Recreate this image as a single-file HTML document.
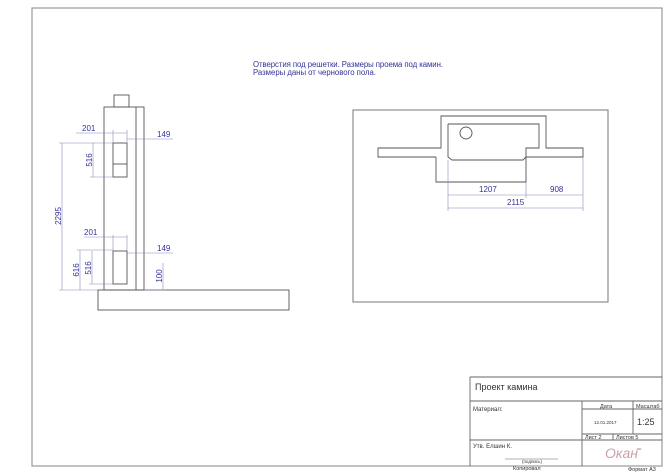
<!DOCTYPE html>
<html><head><meta charset="utf-8"><style>
html,body{margin:0;padding:0;background:#fff}
svg{display:block}
text{font-family:"Liberation Sans",sans-serif}
</style></head><body>
<svg width="670" height="474" viewBox="0 0 670 474" xmlns="http://www.w3.org/2000/svg">
<rect width="670" height="474" fill="#fff"/>
<rect x="32" y="8" width="630" height="458" fill="none" stroke="#999" stroke-width="1.2"/>
<text x="253" y="67" font-size="7.8" fill="#33339a" textLength="190">Отверстия под решетки. Размеры проема под камин.</text>
<text x="253" y="75" font-size="7.8" fill="#33339a" textLength="123">Размеры даны от чернового пола.</text>

<g fill="none" stroke="#555" stroke-width="0.9">
<rect x="114" y="95" width="15" height="12"/>
<rect x="104" y="107" width="40" height="183"/>
<line x1="136" y1="107" x2="136" y2="290"/>
<rect x="113" y="143" width="14" height="34"/>
<line x1="113" y1="164" x2="127" y2="164"/>
<rect x="113" y="251" width="14" height="33"/>
<rect x="98" y="290" width="191" height="20"/>
</g>
<g stroke="#8888bb" stroke-width="0.6" fill="none">
<line x1="76" y1="133" x2="127" y2="133"/><line x1="113" y1="130" x2="113" y2="143"/><line x1="127" y1="130" x2="127" y2="143"/>
<line x1="127" y1="139" x2="173" y2="139"/>
<line x1="62" y1="143" x2="62" y2="290"/><line x1="59" y1="143" x2="113" y2="143"/><line x1="59" y1="290" x2="98" y2="290"/>
<line x1="93" y1="143" x2="93" y2="177"/><line x1="90" y1="177" x2="113" y2="177"/>
<line x1="84" y1="237" x2="127" y2="237"/><line x1="113" y1="235" x2="113" y2="251"/><line x1="127" y1="235" x2="127" y2="251"/>
<line x1="127" y1="253" x2="173" y2="253"/>
<line x1="80" y1="250" x2="80" y2="290"/><line x1="77" y1="250" x2="113" y2="250"/>
<line x1="92" y1="251" x2="92" y2="284"/><line x1="89" y1="284" x2="113" y2="284"/>
<line x1="163" y1="263" x2="163" y2="290"/><line x1="144" y1="290" x2="166" y2="290"/>
</g>
<g font-size="8" fill="#33339a">
<text x="82" y="131">201</text>
<text x="157" y="137">149</text>
<text x="84" y="235">201</text>
<text x="157" y="251">149</text>
<text transform="translate(61,216) rotate(-90)" text-anchor="middle">2295</text>
<text transform="translate(92,160) rotate(-90)" text-anchor="middle">516</text>
<text transform="translate(79,270) rotate(-90)" text-anchor="middle">616</text>
<text transform="translate(91,268) rotate(-90)" text-anchor="middle">516</text>
<text transform="translate(162,276) rotate(-90)" text-anchor="middle">100</text>
</g>

<rect x="353" y="110" width="255" height="192" fill="none" stroke="#777" stroke-width="1"/>
<g fill="none" stroke="#555" stroke-width="0.9">
<polyline points="436,157 378,157 378,148 441,148 441,116 546,116 546,148 583,148 583,157 526,157"/>
<polyline points="448,124 539,124 539,148 526,148 526,157 523,160 452,160 448,157 448,124"/>
<polyline points="436,157 436,182 526,182 526,157"/>
<circle cx="466" cy="133" r="6"/>
</g>
<g stroke="#8888bb" stroke-width="0.6">
<line x1="448" y1="160" x2="448" y2="211"/><line x1="526" y1="182" x2="526" y2="198"/><line x1="583" y1="157" x2="583" y2="211"/>
<line x1="448" y1="195" x2="583" y2="195"/><line x1="448" y1="208" x2="583" y2="208"/>
</g>
<g font-size="8" fill="#33339a">
<text x="479" y="192">1207</text>
<text x="550" y="192">908</text>
<text x="507" y="205">2115</text>
</g>

<g fill="none" stroke="#666" stroke-width="0.9">
<line x1="470" y1="377" x2="662" y2="377"/>
<line x1="470" y1="377" x2="470" y2="466"/>
<line x1="470" y1="401" x2="662" y2="401"/>
<line x1="582" y1="401" x2="582" y2="466"/>
<line x1="633" y1="401" x2="633" y2="434"/>
<line x1="582" y1="409" x2="662" y2="409"/>
<line x1="582" y1="434" x2="662" y2="434"/>
<line x1="470" y1="440" x2="662" y2="440"/>
<line x1="613" y1="434" x2="613" y2="440"/>
<line x1="505" y1="459" x2="558" y2="459" stroke-width="0.6"/>
</g>
<g fill="#333">
<text x="475" y="390" font-size="9">Проект камина</text>
<text x="473" y="411" font-size="6">Материал:</text>
<text x="600" y="408" font-size="5.5">Дата</text>
<text x="636" y="408" font-size="5.5">Масштаб</text>
<text x="594" y="424" font-size="4.5">12.01.2017</text>
<text x="637" y="425" font-size="9">1:25</text>
<text x="585" y="439" font-size="5.5">Лист 2</text>
<text x="616" y="439" font-size="5.5">Листов 5</text>
<text x="473" y="448" font-size="6">Утв.  Елшин К.</text>
<text x="522" y="463" font-size="4.5">(подпись)</text>
<text x="513" y="470" font-size="5.5">Копировал</text>
<text x="628" y="471" font-size="5.5">Формат А3</text>
</g>
<text x="605" y="458" font-size="14" font-style="italic" fill="#c9a0a8" font-family="Liberation Serif,serif">Окан</text>
<text x="636" y="450" font-size="4" fill="#c44">.su</text>
</svg>
</body></html>
